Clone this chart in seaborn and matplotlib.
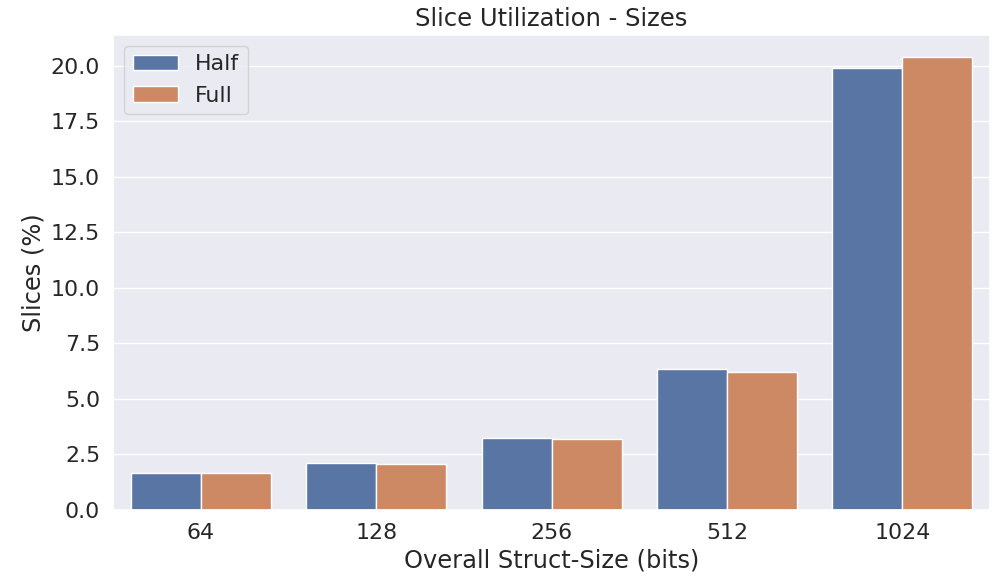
import numpy as np
import pandas as pd
import matplotlib.pyplot as plt
import seaborn as sns

sizes = ["64", "128", "256", "512", "1024"]
half = [1.66, 2.12, 3.24, 6.34, 19.88]
full = [1.66, 2.07, 3.19, 6.22, 20.38]

df = pd.DataFrame({
    "size": sizes * 2,
    "slices": half + full,
    "mode": ["Half"] * len(sizes) + ["Full"] * len(sizes),
})

sns.set_theme(style="darkgrid", font_scale=1.45)

fig, ax = plt.subplots(figsize=(9.94, 5.76), dpi=100)
sns.barplot(data=df, x="size", y="slices", hue="mode", order=sizes, ax=ax)
ax.set_title("Slice Utilization - Sizes", fontsize=17.5)
ax.set_xlabel("Overall Struct-Size (bits)")
ax.set_ylabel("Slices (%)")
ax.legend(loc="upper left")
fig.subplots_adjust(left=0.114, right=0.996, top=0.94, bottom=0.115)
fig.savefig("out.png")
